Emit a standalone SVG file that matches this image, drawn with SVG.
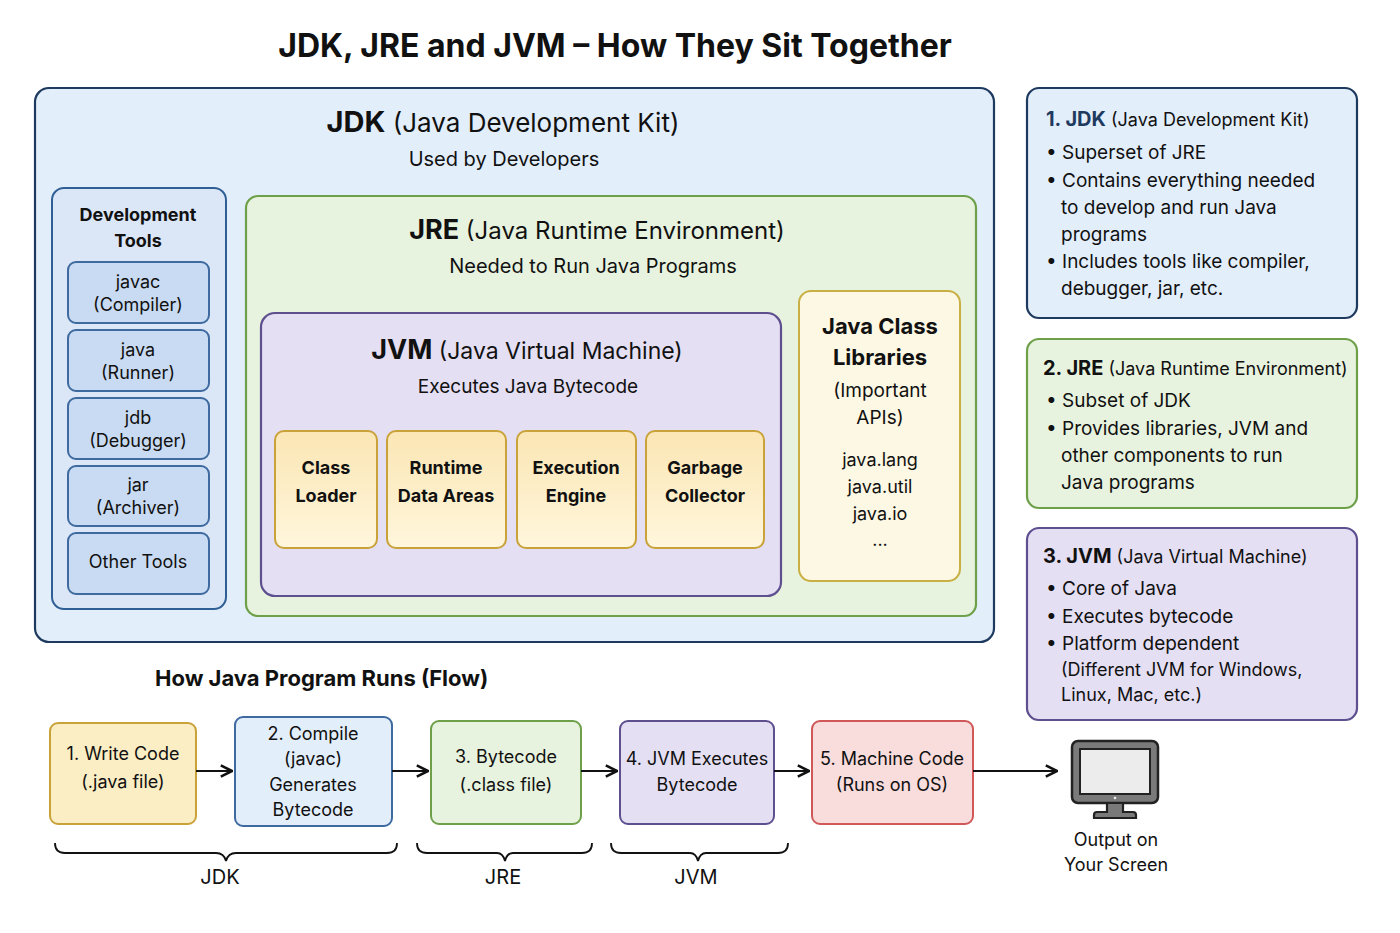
<svg xmlns="http://www.w3.org/2000/svg" width="1400" height="933" viewBox="0 0 1400 933">
<style>
text{font-family:Inter,"Noto Sans","Liberation Sans",sans-serif;fill:#111;}
.c{text-anchor:middle}
.b{font-weight:bold}
.t18{font-size:18px}
.t19{font-size:19px}
.t20{font-size:20px}
.blue{fill:#e3eefb;stroke:#1f3a5f;stroke-width:2.2}
.green{fill:#e8f3df;stroke:#6ea04a;stroke-width:2.2}
.purple{fill:#e5dff3;stroke:#5e4f8f;stroke-width:2.2}
.tool{fill:#c9dbf2;stroke:#3e6aa0;stroke-width:2}
.comp{fill:url(#gy);stroke:#c9a23a;stroke-width:2}
.edge{stroke:#111;stroke-width:2;fill:none;marker-end:url(#ar)}
.brace{stroke:#111;stroke-width:1.8;fill:none}
</style>
<defs>
<linearGradient id="gy" x1="0" y1="0" x2="0" y2="1"><stop offset="0" stop-color="#fbe6b4"/><stop offset="1" stop-color="#fff6dc"/></linearGradient>
<marker id="ar" viewBox="0 0 10 10" refX="9" refY="5" markerWidth="7" markerHeight="7" orient="auto"><path d="M1,1 L9,5 L1,9" fill="none" stroke="#111" stroke-width="1.8"/></marker>
</defs>
<rect width="1400" height="933" fill="#fff"/>
<text x="615" y="57" class="c b" font-size="32">JDK, JRE and JVM – How They Sit Together</text>

<g id="jdk">
<rect x="35" y="88" width="959" height="554" rx="14" class="blue"/>
<text x="503" y="132" class="c" font-size="26"><tspan class="b" font-size="29">JDK</tspan> (Java Development Kit)</text>
<text x="504" y="166" class="c t20">Used by Developers</text>
</g>
<g id="devtools">
<rect x="52" y="188" width="174" height="421" rx="12" fill="#dbe7f7" stroke="#2f5f95" stroke-width="2"/>
<text x="138" y="221" class="c b t18">Development</text>
<text x="138" y="247" class="c b t18">Tools</text>
</g>
<g id="javac"><rect x="68" y="262" width="141" height="61" rx="8" class="tool"/><text x="138" y="288" class="c t18">javac</text><text x="138" y="311" class="c t18">(Compiler)</text></g>
<g id="java"><rect x="68" y="330" width="141" height="61" rx="8" class="tool"/><text x="138" y="356" class="c t18">java</text><text x="138" y="379" class="c t18">(Runner)</text></g>
<g id="jdb"><rect x="68" y="398" width="141" height="61" rx="8" class="tool"/><text x="138" y="424" class="c t18">jdb</text><text x="138" y="447" class="c t18">(Debugger)</text></g>
<g id="jar"><rect x="68" y="466" width="141" height="60" rx="8" class="tool"/><text x="138" y="491" class="c t18">jar</text><text x="138" y="514" class="c t18">(Archiver)</text></g>
<g id="othertools"><rect x="68" y="533" width="141" height="61" rx="8" class="tool"/><text x="138" y="568" class="c t18">Other Tools</text></g>

<g id="jre">
<rect x="246" y="196" width="730" height="420" rx="12" class="green"/>
<text x="597" y="239" class="c" font-size="24"><tspan class="b" font-size="27">JRE</tspan> (Java Runtime Environment)</text>
<text x="593" y="273" class="c t20">Needed to Run Java Programs</text>
</g>
<g id="jvm">
<rect x="261" y="313" width="520" height="283" rx="14" class="purple"/>
<text x="527" y="359" class="c" font-size="23"><tspan class="b" font-size="27">JVM</tspan> (Java Virtual Machine)</text>
<text x="528" y="393" class="c" font-size="19">Executes Java Bytecode</text>
</g>
<g id="classloader"><rect x="275" y="431" width="102" height="117" rx="9" class="comp"/><text x="326" y="474" class="c b t18">Class</text><text x="326" y="502" class="c b t18">Loader</text></g>
<g id="runtimedata"><rect x="387" y="431" width="119" height="117" rx="9" class="comp"/><text x="446" y="474" class="c b t18">Runtime</text><text x="446" y="502" class="c b t18">Data Areas</text></g>
<g id="execengine"><rect x="517" y="431" width="119" height="117" rx="9" class="comp"/><text x="576" y="474" class="c b t18">Execution</text><text x="576" y="502" class="c b t18">Engine</text></g>
<g id="gc"><rect x="646" y="431" width="118" height="117" rx="9" class="comp"/><text x="705" y="474" class="c b t18">Garbage</text><text x="705" y="502" class="c b t18">Collector</text></g>

<g id="classlibs">
<rect x="799" y="291" width="161" height="290" rx="12" fill="#fdf8e4" stroke="#c9b045" stroke-width="2"/>
<text x="880" y="334" class="c b" font-size="22">Java Class</text>
<text x="880" y="365" class="c b" font-size="22">Libraries</text>
<text x="880" y="397" class="c t19">(Important</text>
<text x="880" y="424" class="c t19">APIs)</text>
<text x="880" y="466" class="c t18">java.lang</text>
<text x="880" y="493" class="c t18">java.util</text>
<text x="880" y="520" class="c t18">java.io</text>
<text x="880" y="546" class="c t18">...</text>
</g>

<g id="note-jdk">
<rect x="1027" y="88" width="330" height="230" rx="12" class="blue"/>
<text x="1046" y="126" font-size="18"><tspan class="b" font-size="20" fill="#1f3a5f">1. JDK</tspan> (Java Development Kit)</text>
<text x="1046" y="159" class="t19">• Superset of JRE</text>
<text x="1046" y="187" class="t19">• Contains everything needed</text>
<text x="1061" y="214" class="t19">to develop and run Java</text>
<text x="1061" y="241" class="t19">programs</text>
<text x="1046" y="268" class="t19">• Includes tools like compiler,</text>
<text x="1061" y="295" class="t19">debugger, jar, etc.</text>
</g>
<g id="note-jre">
<rect x="1027" y="339" width="330" height="169" rx="12" class="green"/>
<text x="1043" y="375" font-size="18"><tspan class="b" font-size="20">2. JRE</tspan> (Java Runtime Environment)</text>
<text x="1046" y="407" class="t19">• Subset of JDK</text>
<text x="1046" y="435" class="t19">• Provides libraries, JVM and</text>
<text x="1061" y="462" class="t19">other components to run</text>
<text x="1061" y="489" class="t19">Java programs</text>
</g>
<g id="note-jvm">
<rect x="1027" y="528" width="330" height="192" rx="12" class="purple"/>
<text x="1043" y="563" font-size="18"><tspan class="b" font-size="20">3. JVM</tspan> (Java Virtual Machine)</text>
<text x="1046" y="595" class="t19">• Core of Java</text>
<text x="1046" y="623" class="t19">• Executes bytecode</text>
<text x="1046" y="650" class="t19">• Platform dependent</text>
<text x="1061" y="676" font-size="18">(Different JVM for Windows,</text>
<text x="1061" y="701" font-size="18">Linux, Mac, etc.)</text>
</g>

<text x="155" y="686" class="b" font-size="22">How Java Program Runs (Flow)</text>

<g id="step1"><rect x="50" y="723" width="146" height="101" rx="8" fill="#fbedc4" stroke="#c9a23a" stroke-width="2"/><text x="123" y="760" class="c t18">1. Write Code</text><text x="123" y="788" class="c t18">(.java file)</text></g>
<g id="step2"><rect x="235" y="717" width="157" height="109" rx="8" fill="#e3eefb" stroke="#3e6aa0" stroke-width="2"/><text x="313" y="740" class="c t18">2. Compile</text><text x="313" y="765" class="c t18">(javac)</text><text x="313" y="791" class="c t18">Generates</text><text x="313" y="816" class="c t18">Bytecode</text></g>
<g id="step3"><rect x="431" y="721" width="150" height="103" rx="8" fill="#e8f3df" stroke="#6ea04a" stroke-width="2"/><text x="506" y="763" class="c t18">3. Bytecode</text><text x="506" y="791" class="c t18">(.class file)</text></g>
<g id="step4"><rect x="620" y="721" width="154" height="103" rx="8" fill="#e5dff3" stroke="#5e4f8f" stroke-width="2"/><text x="697" y="765" class="c t18">4. JVM Executes</text><text x="697" y="791" class="c t18">Bytecode</text></g>
<g id="step5"><rect x="812" y="721" width="161" height="103" rx="8" fill="#f9dcdc" stroke="#d05858" stroke-width="2"/><text x="892" y="765" class="c t18">5. Machine Code</text><text x="892" y="791" class="c t18">(Runs on OS)</text></g>

<g id="output">
<rect x="1072" y="741" width="86" height="62" rx="6" fill="#7a7a7a" stroke="#222" stroke-width="2.5"/>
<rect x="1080" y="749" width="70" height="45" fill="#ececec" stroke="#222" stroke-width="2"/>
<circle cx="1115" cy="798" r="1.3" fill="#eee"/>
<path d="M1107,803 L1107,812 L1097,812 Q1094,812 1094,815 L1094,818 L1136,818 L1136,815 Q1136,812 1133,812 L1123,812 L1123,803 Z" fill="#7a7a7a" stroke="#222" stroke-width="2.2"/>
<text x="1116" y="846" class="c t18">Output on</text>
<text x="1116" y="871" class="c t18">Your Screen</text>
</g>

<g id="connectors">
<path d="M196,771 H232" class="edge"/>
<path d="M392,771 H428" class="edge"/>
<path d="M581,771 H617" class="edge"/>
<path d="M774,771 H809" class="edge"/>
<path d="M973,771 H1057" class="edge"/>
</g>

<g id="braces">
<path d="M55,843 Q55,853 65,853 H216 Q224,853 226,861 Q228,853 236,853 H387 Q397,853 397,843" class="brace"/>
<text x="220" y="884" class="c t20">JDK</text>
<path d="M417,843 Q417,853 427,853 H497 Q503,853 505,861 Q507,853 513,853 H582 Q592,853 592,843" class="brace"/>
<text x="503" y="884" class="c t20">JRE</text>
<path d="M611,843 Q611,853 621,853 H690 Q696,853 698,861 Q700,853 706,853 H778 Q788,853 788,843" class="brace"/>
<text x="696" y="884" class="c t20">JVM</text>
</g>
</svg>
